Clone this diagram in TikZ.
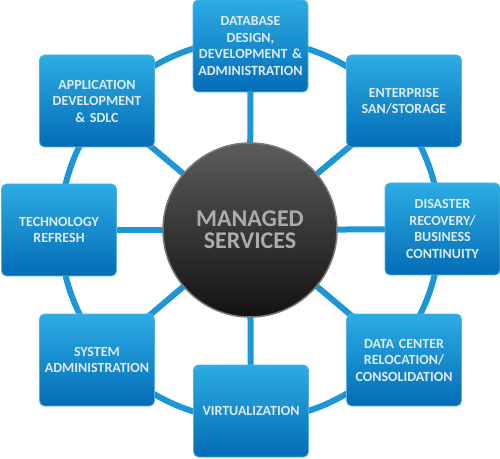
\documentclass[tikz,border=0pt]{standalone}
\usepackage{fontspec}
\setmainfont{Carlito}
\usepackage{tikz}
\usetikzlibrary{positioning, backgrounds}
\definecolor{ringblue}{RGB}{28,150,212}
\definecolor{boxtop}{RGB}{44,172,228}
\definecolor{boxbottom}{RGB}{4,108,182}
\definecolor{boxrim}{RGB}{80,180,232}
\definecolor{boxtext}{RGB}{222,234,246}
\definecolor{hubtop}{RGB}{92,92,92}
\definecolor{hubbottom}{RGB}{18,18,18}
\definecolor{hubrim}{RGB}{120,120,120}
\definecolor{hubtext}{RGB}{172,172,172}

\begin{document}
\begin{tikzpicture}[x=1pt,y=1pt]
                \tikzset{box/.style = {draw=boxrim, line width=0.8pt, rounded corners=5pt,
                    top color=boxtop, bottom color=boxbottom,
                    minimum width=115pt, minimum height=92pt, inner sep=0pt,
                    text width=112pt, align=center, text=boxtext,
                    font=\bfseries\fontsize{14}{16.5}\selectfont}}
                \tikzset{hub/.style = {circle, draw=hubrim, line width=1.5pt,
                    top color=hubtop, bottom color=hubbottom, minimum size=174pt,
                    align=center, text=hubtext, font=\bfseries\fontsize{24}{22}\selectfont}}
                \tikzset{spoke/.style = {ringblue, line width=6pt}}

                \useasboundingbox (0,0) rectangle (500,458);

                \node[hub] (ms) at (250,228) {MANAGED\\SERVICES};

                \node[box] (db) at (250.5,412) {DATABASE\\DESIGN,\\DEVELOPMENT \&\\ADMINISTRATION};
                \node[box] (san) at (404,357) {ENTERPRISE\\SAN/STORAGE};
                \node[box] (dr) at (442.5,229) {DISASTER\\RECOVERY/\\BUSINESS\\CONTINUITY};
                \node[box] (dc) at (404,98) {DATA CENTER\\RELOCATION/\\CONSOLIDATION};
                \node[box] (virt) at (251,47) {VIRTUALIZATION};
                \node[box] (sys) at (97,98) {SYSTEM\\ADMINISTRATION};
                \node[box] (tech) at (59,228) {TECHNOLOGY\\REFRESH};
                \node[box] (app) at (97,357) {APPLICATION\\DEVELOPMENT\\\& SDLC};

                % ring and spokes
                \begin{scope}[on background layer]
                \draw[spoke] (ms.center) circle (190);
                \foreach \b in {db, san, dr, dc, virt, sys, tech, app}
                    \draw[spoke] (ms.center) -- (\b.center);
                \end{scope}

\end{tikzpicture}
\end{document}
